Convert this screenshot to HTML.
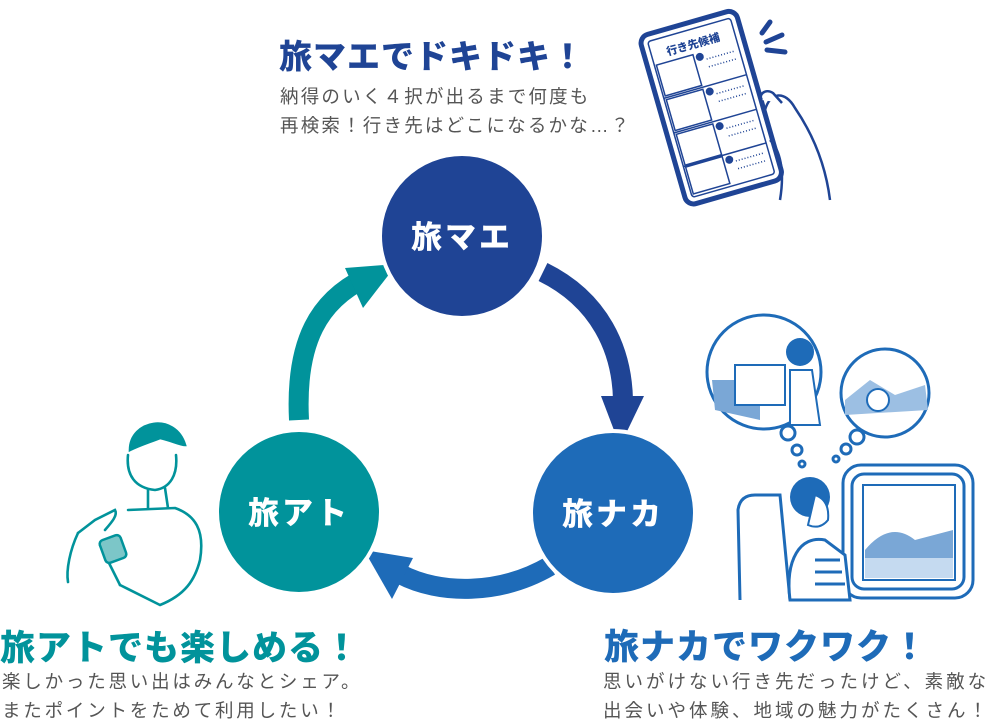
<!DOCTYPE html>
<html><head><meta charset="utf-8"><style>
body{margin:0;background:#fff;width:995px;height:723px;overflow:hidden;position:relative;font-family:"Liberation Sans","Noto Sans CJK JP",sans-serif}
.t{position:absolute;white-space:nowrap;font-weight:900;letter-spacing:1px}
.s{position:absolute;white-space:nowrap;color:#555;font-size:18.5px;letter-spacing:2.8px;line-height:29px}
svg{position:absolute;left:0;top:0}
</style></head><body>
<svg width="995" height="723" viewBox="0 0 995 723">
<path d="M299 420 C295 340 320 300 365 278" fill="none" stroke="#01939b" stroke-width="20"/>
<polygon points="397,264 345,268 363,308" fill="#01939b"/>
<path d="M543 272 C600 300 622 350 623 400" fill="none" stroke="#1f4495" stroke-width="20"/>
<polygon points="620,446 601,396 644,396" fill="#1f4495"/>
<path d="M550 566 C500 595 440 595 400 574" fill="none" stroke="#1e6bb8" stroke-width="20"/>
<polygon points="364,550 413,558 392,599" fill="#1e6bb8"/>
<circle cx="462" cy="236" r="82" fill="#1f4495" stroke="#fff" stroke-width="4"/>
<circle cx="299" cy="512" r="82" fill="#01939b" stroke="#fff" stroke-width="4"/>
<circle cx="613" cy="513" r="82" fill="#1e6bb8" stroke="#fff" stroke-width="4"/>
<g font-family="Liberation Sans,Noto Sans CJK JP,sans-serif" font-weight="900" font-size="31" fill="#fff" text-anchor="middle" letter-spacing="3">
<text x="462" y="248">旅マエ</text><text x="299" y="524">旅アト</text><text x="613" y="525">旅ナカ</text></g>
<g transform="rotate(-16 710 107)">
<rect x="661" y="20" width="100" height="176" rx="9" fill="#fff" stroke="#1f4495" stroke-width="5"/>
<rect x="668" y="27" width="86" height="162" rx="3" fill="none" stroke="#1f4495" stroke-width="1.5"/>
<text x="711" y="46" font-size="11" font-weight="900" fill="#1f4495" text-anchor="middle" font-family="Liberation Sans,Noto Sans CJK JP,sans-serif">行き先候補</text>
<g stroke="#1f4495" fill="none" stroke-width="1.5">
<rect x="670" y="52" width="38" height="32"/><rect x="670" y="88" width="38" height="32"/><rect x="670" y="124" width="38" height="32"/><rect x="670" y="158" width="38" height="28"/>
<line x1="668" y1="86" x2="754" y2="86"/><line x1="668" y1="122" x2="754" y2="122"/><line x1="668" y1="157" x2="754" y2="157"/>
<line x1="720" y1="60" x2="750" y2="60" stroke-dasharray="1 2"/><line x1="720" y1="68" x2="750" y2="68" stroke-dasharray="1 2"/>
<line x1="720" y1="96" x2="750" y2="96" stroke-dasharray="1 2"/><line x1="720" y1="104" x2="750" y2="104" stroke-dasharray="1 2"/>
<line x1="720" y1="132" x2="750" y2="132" stroke-dasharray="1 2"/><line x1="720" y1="140" x2="750" y2="140" stroke-dasharray="1 2"/>
<line x1="720" y1="166" x2="750" y2="166" stroke-dasharray="1 2"/><line x1="720" y1="174" x2="750" y2="174" stroke-dasharray="1 2"/>
</g>
<g fill="#1f4495"><circle cx="714" cy="56" r="4"/><circle cx="714" cy="92" r="4"/><circle cx="714" cy="128" r="4"/><circle cx="714" cy="163" r="4"/></g>
</g>
<path d="M765 110 C770 92 785 90 795 108 C810 130 825 160 830 200 M770 140 C780 150 785 170 780 200" fill="none" stroke="#1f4495" stroke-width="2.5"/>
<path d="M762 100 C758 95 765 88 773 93 L782 103" fill="#fff" stroke="#1f4495" stroke-width="2.5"/>
<g stroke="#1f4495" stroke-width="5" stroke-linecap="round"><line x1="762" y1="33" x2="770" y2="22"/><line x1="766" y1="42" x2="782" y2="35"/><line x1="767" y1="50" x2="785" y2="52"/></g>
<g stroke="#1e6bb8" stroke-width="3" fill="#fff">
<circle cx="764" cy="372" r="57"/><circle cx="885" cy="393" r="44"/>
<circle cx="788" cy="433" r="7"/><circle cx="797" cy="450" r="5"/><circle cx="802" cy="464" r="3"/>
<circle cx="857" cy="437" r="7"/><circle cx="846" cy="449" r="5"/><circle cx="836" cy="459" r="3"/>
</g>
<path d="M712 380 L760 380 L760 420 L715 410 Z" fill="#7aa7d6"/>
<rect x="735" y="365" width="50" height="40" fill="#fff" stroke="#1e6bb8" stroke-width="2"/>
<circle cx="800" cy="352" r="14" fill="#1e6bb8"/>
<path d="M790 370 L812 370 L820 425 L790 425 Z" fill="#fff" stroke="#1e6bb8" stroke-width="2"/>
<path d="M845 400 L870 380 L895 395 L925 385 L928 410 L845 415Z" fill="#9cbfe3"/>
<circle cx="878" cy="400" r="11" fill="#fff" stroke="#1e6bb8" stroke-width="2"/>
<g stroke="#1e6bb8" stroke-width="3" fill="#fff">
<path d="M740 600 L738 510 Q740 495 755 495 L780 495 L790 600"/>
<rect x="843" y="465" width="130" height="133" rx="18"/>
<rect x="852" y="474" width="112" height="115" rx="12"/>
</g>
<rect x="863" y="485" width="92" height="95" fill="#fff" stroke="#1e6bb8" stroke-width="2"/>
<path d="M865 550 Q890 520 915 540 L953 530 L953 558 L865 560Z" fill="#7aa7d6"/>
<rect x="865" y="558" width="88" height="20" fill="#c5daf0"/>
<path d="M790 600 C785 560 800 535 825 540 L845 555 L850 600Z" fill="#fff" stroke="#1e6bb8" stroke-width="3"/>
<g stroke="#1e6bb8" stroke-width="3"><line x1="815" y1="560" x2="840" y2="560"/><line x1="815" y1="572" x2="842" y2="572"/><line x1="815" y1="584" x2="845" y2="584"/></g>
<circle cx="810" cy="497" r="20" fill="#1e6bb8"/>
<path d="M815 495 Q830 500 828 520 Q820 530 808 525Z" fill="#fff" stroke="#1e6bb8" stroke-width="2"/>
<g stroke="#01939b" stroke-width="2.6" fill="none" stroke-linecap="round">
<path d="M130 450 C130 420 175 412 185 445 C180 445 170 440 160 438 C150 442 140 445 130 450Z" fill="#01939b"/>
<path d="M128 455 C126 475 135 488 155 490 C170 488 178 475 176 455"/>
<path d="M148 490 L148 508 M165 488 L168 508"/>
<path d="M128 510 L175 508 C195 515 205 530 200 560 C195 580 185 595 160 605 L120 585"/>
<path d="M78 533 C70 550 66 570 68 582"/>
<path d="M78 533 L95 520 L115 510 C118 515 112 522 105 530"/>
<path d="M100 545 L120 585"/>
</g>
<rect x="102" y="537" width="22" height="24" rx="4" fill="#7cc6c8" stroke="#01939b" stroke-width="2.5" transform="rotate(-20 113 549)"/>
</svg>
<div class="t" style="left:279px;top:30px;font-size:33px;color:#1f4495">旅マエでドキドキ！</div>
<div class="s" style="left:280px;top:82px;letter-spacing:2.2px">納得のいく４択が出るまで何度も<br>再検索！行き先はどこになるかな…？</div>
<div class="t" style="left:0;top:620px;font-size:35px;color:#01939b">旅アトでも楽しめる！</div>
<div class="s" style="left:2px;top:667px">楽しかった思い出はみんなとシェア。<br>またポイントをためて利用したい！</div>
<div class="t" style="left:604px;top:619px;font-size:35px;color:#1e6bb8">旅ナカでワクワク！</div>
<div class="s" style="left:603px;top:667px;letter-spacing:3px">思いがけない行き先だったけど、素敵な<br>出会いや体験、地域の魅力がたくさん！</div>
</body></html>
